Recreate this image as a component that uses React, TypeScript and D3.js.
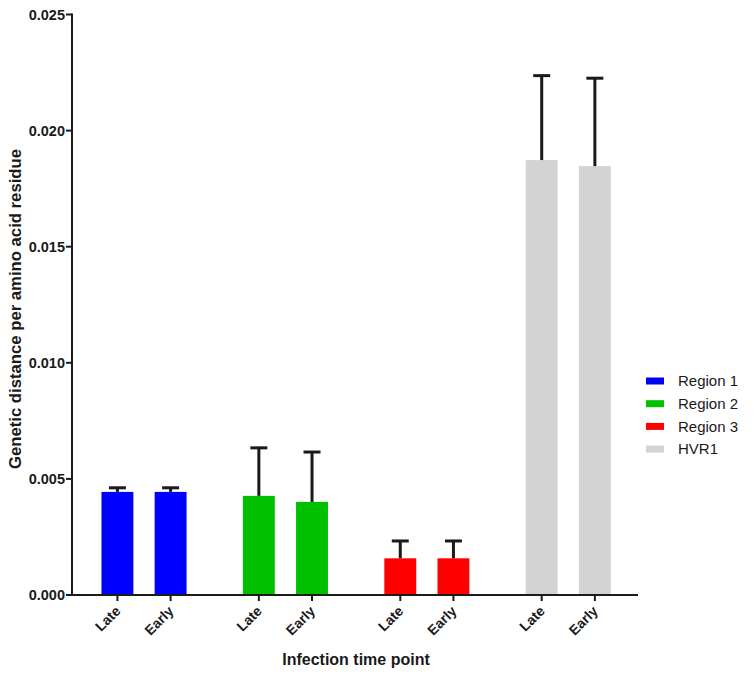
import React from "react";
import * as d3 from "d3";

const groups = ["Region 1", "Region 2", "Region 3", "HVR1"];
const timePoints = ["Late", "Early"];
const meansLate = [0.00444, 0.00427, 0.00158, 0.01873];
const meansEarly = [0.00444, 0.00401, 0.00158, 0.01847];
const errLate = [0.00022, 0.00211, 0.00079, 0.00368];
const errEarly = [0.00022, 0.00219, 0.00079, 0.00383];
const colors = ["#0000FF", "#00C000", "#FF0000", "#D3D3D3"];
const yTicks = [0, 0.005, 0.01, 0.015, 0.02, 0.025];
const yTitle = "Genetic distance per amino acid residue";
const xTitle = "Infection time point";

const W = 754;
const H = 680;
const FONT = "'Liberation Sans', Arial, sans-serif";
const INK = "#1a1a1a";

export default function App() {
  const axisX = 72;
  const axisY = 595;
  const x0 = d3.scaleBand<string>().domain(groups).range([73.3, 639]).padding(0);
  const x1 = d3
    .scaleBand<string>()
    .domain(timePoints)
    .range([0, x0.bandwidth()])
    .paddingInner(0.4)
    .paddingOuter(0.53);
  const y = d3.scaleLinear().domain([0, 0.025]).range([axisY, 14.5]);

  const bars = groups.flatMap((g, gi) =>
    timePoints.map((t) => ({
      group: g,
      gi,
      t,
      mean: t === "Late" ? meansLate[gi] : meansEarly[gi],
      err: t === "Late" ? errLate[gi] : errEarly[gi],
    }))
  );

  const capW = 17;

  return (
    <svg
      width={W}
      height={H}
      style={{ position: "absolute", left: 0, top: 0, background: "#fff", fontFamily: FONT }}
    >
      {/* bars */}
      {bars.map((b, i) => {
        const bx = (x0(b.group) as number) + (x1(b.t) as number);
        const bw = x1.bandwidth();
        const cx = bx + bw / 2;
        const top = y(b.mean);
        const etop = y(b.mean + b.err);
        return (
          <g key={i}>
            <rect x={bx} y={top} width={bw} height={axisY - top} fill={colors[b.gi]} />
            <line x1={cx} x2={cx} y1={top} y2={etop} stroke={INK} strokeWidth={3} />
            <line x1={cx - capW / 2} x2={cx + capW / 2} y1={etop + 1} y2={etop + 1} stroke={INK} strokeWidth={3} />
          </g>
        );
      })}

      {/* y axis */}
      <line x1={axisX} x2={axisX} y1={y(0.025) - 1} y2={axisY + 1} stroke={INK} strokeWidth={2} />
      {yTicks.map((v) => (
        <g key={v} transform={`translate(0,${y(v)})`}>
          <line x1={axisX - 6} x2={axisX} stroke={INK} strokeWidth={2} />
          <text
            x={axisX - 7}
            dy="0.36em"
            textAnchor="end"
            fontSize={14.5}
            fontWeight="bold"
            fill={INK}
          >
            {d3.format(".3f")(v)}
          </text>
        </g>
      ))}
      <text
        transform={`translate(21,309) rotate(-90)`}
        textAnchor="middle"
        fontSize={16.7}
        fontWeight="bold"
        fill={INK}
      >
        {yTitle}
      </text>

      {/* x axis */}
      <line x1={axisX - 1} x2={x0.range()[1] - 1} y1={axisY} y2={axisY} stroke={INK} strokeWidth={2} />
      {bars.map((b, i) => {
        const cx = (x0(b.group) as number) + (x1(b.t) as number) + x1.bandwidth() / 2;
        return (
          <g key={"xt" + i}>
            <line x1={cx} x2={cx} y1={axisY} y2={axisY + 6} stroke={INK} strokeWidth={2} />
            <text
              transform={`translate(${cx + 4},${axisY + 17}) rotate(-45)`}
              textAnchor="end"
              fontSize={14}
              fontWeight="bold"
              fill={INK}
            >
              {b.t}
            </text>
          </g>
        );
      })}
      <text x={356} y={665} textAnchor="middle" fontSize={16} fontWeight="bold" fill={INK}>
        {xTitle}
      </text>

      {/* legend */}
      {groups.map((g, i) => (
        <g key={"lg" + i} transform={`translate(646,${381 + i * 22.7})`}>
          <rect x={0} y={-3.5} width={18} height={7} fill={colors[i]} />
          <text x={32} dy="0.35em" fontSize={15} fill={INK}>
            {g}
          </text>
        </g>
      ))}
    </svg>
  );
}
